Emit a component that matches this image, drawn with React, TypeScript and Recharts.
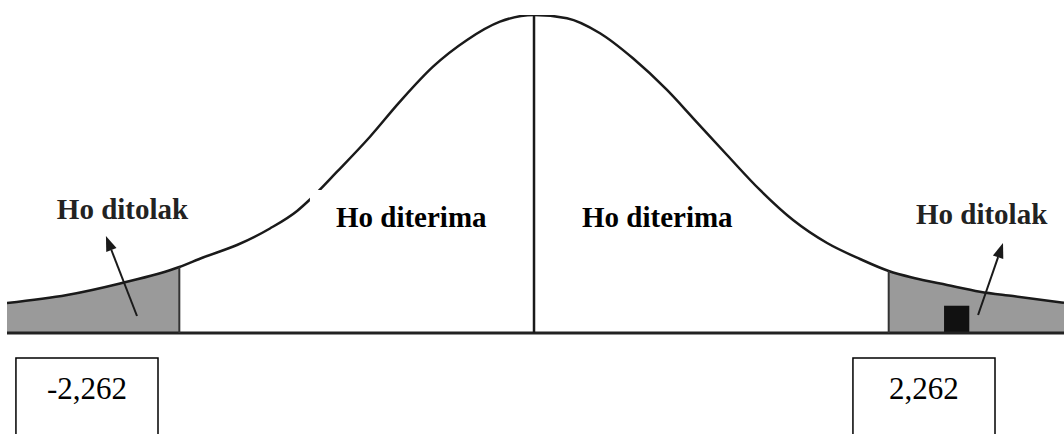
import React from "react";
import {
  ComposedChart,
  Line,
  Area,
  XAxis,
  YAxis,
  ReferenceLine,
  ReferenceArea,
  ReferenceDot,
} from "recharts";

// t values (x) and curve heights (density)
const tValues = [
  -3.361, -2.978, -2.64, -2.262, -2.111, -1.894, -1.684, -1.511, -1.429, -1.256,
  -1.046, -0.855, -0.644, -0.427, -0.217, 0, 0.21, 0.421, 0.631, 0.848, 1.014,
  1.231, 1.441, 1.652, 1.869, 2.079, 2.262, 2.423, 2.634, 2.844, 3.055, 3.38,
];
const density = [
  0.0377, 0.0478, 0.0623, 0.083, 0.095, 0.1107, 0.1315, 0.1535, 0.1679, 0.2029,
  0.2469, 0.291, 0.335, 0.3686, 0.3916, 0.4, 0.3959, 0.377, 0.3455, 0.3057,
  0.2704, 0.2239, 0.1799, 0.1421, 0.1132, 0.0931, 0.078, 0.0692, 0.0604, 0.052,
  0.0465, 0.0381,
];
const criticalValues = [-2.262, 2.262];
const criticalLabels = ["-2,262", "2,262"];
const regionLabels = ["Ho ditolak", "Ho diterima", "Ho diterima", "Ho ditolak"];

const data = tValues.map((t, i) => ({
  t,
  y: density[i],
  tail: t <= criticalValues[0] || t >= criticalValues[1] ? density[i] : null,
}));

const heightAt = (t: number) => density[tValues.indexOf(t)];

// annotation anchors (data coordinates)
const regionAnchors = [
  { x: -3.043, y: 0.1434 },
  { x: -1.263, y: 0.1333 },
  { x: 0.306, y: 0.1333 },
  { x: 2.436, y: 0.1371 },
];
const arrows = [
  { from: { x: -2.532, y: 0.0214 }, to: { x: -2.73, y: 0.122 } },
  { from: { x: 2.832, y: 0.0226 }, to: { x: 2.991, y: 0.1132 } },
];
const boxes = [
  { x1: -3.304, x2: -2.398 },
  { x1: 2.034, x2: 2.94 },
];

const SERIF = "'Liberation Serif', 'Times New Roman', serif";

const ArrowShape = (p: any) => {
  const { x1, y1, x2, y2 } = p;
  const ang = Math.atan2(y2 - y1, x2 - x1);
  const L = 15;
  const W = 5.5;
  const bx = x2 - L * Math.cos(ang);
  const by = y2 - L * Math.sin(ang);
  const px = -Math.sin(ang);
  const py = Math.cos(ang);
  return (
    <g>
      <line x1={x1} y1={y1} x2={bx} y2={by} stroke="#1a1a1a" strokeWidth={2} />
      <polygon
        points={`${x2},${y2} ${bx + W * px},${by + W * py} ${bx - W * px},${by - W * py}`}
        fill="#1a1a1a"
      />
    </g>
  );
};

export default function App() {
  return (
    <div
      style={{
        position: "absolute",
        left: 0,
        top: 0,
        width: 1064,
        height: 434,
        overflow: "hidden",
        background: "#fff",
      }}
    >
      <ComposedChart
        width={1064}
        height={434}
        data={data}
        margin={{ top: 15, right: 0, bottom: 101, left: 7 }}
      >
        <XAxis
          type="number"
          dataKey="t"
          domain={[-3.361, 3.38]}
          allowDataOverflow
          hide
        />
        <YAxis type="number" domain={[0, 0.4]} allowDataOverflow hide />
        <Area
          type="monotone"
          dataKey="tail"
          fill="#9a9a9a"
          fillOpacity={1}
          stroke="none"
          connectNulls={false}
          isAnimationActive={false}
          dot={false}
          activeDot={false}
        />
        <ReferenceArea
          x1={2.615}
          x2={2.776}
          y1={0}
          y2={0.0343}
          fill="#111"
          fillOpacity={1}
          stroke="none"
          ifOverflow="visible"
          zIndex={150}
        />
        <Line
          type="monotone"
          dataKey="y"
          stroke="#1a1a1a"
          strokeWidth={2.5}
          dot={false}
          activeDot={false}
          isAnimationActive={false}
        />
        <ReferenceArea
          x1={-1.429}
          x2={-0.28}
          y1={0.03}
          y2={0.1799}
          fill="#fff"
          fillOpacity={1}
          stroke="none"
          ifOverflow="visible"
          zIndex={450}
        />
        <ReferenceLine y={0} stroke="#222" strokeWidth={3} zIndex={500} />
        <ReferenceLine
          segment={[
            { x: 0, y: 0 },
            { x: 0, y: 0.4 },
          ]}
          stroke="#1a1a1a"
          strokeWidth={2.5}
          zIndex={500}
        />
        {criticalValues.map((c) => (
          <ReferenceLine
            key={"c" + c}
            segment={[
              { x: c, y: 0 },
              { x: c, y: heightAt(c) },
            ]}
            stroke="#333"
            strokeWidth={2}
            zIndex={500}
          />
        ))}
        {arrows.map((a, i) => (
          <ReferenceLine
            key={"a" + i}
            segment={[a.from, a.to]}
            ifOverflow="visible"
            shape={ArrowShape}
            zIndex={600}
          />
        ))}
        {regionLabels.map((lbl, i) => (
          <ReferenceDot
            key={"l" + i}
            x={regionAnchors[i].x}
            y={regionAnchors[i].y}
            r={0}
            ifOverflow="visible"
            zIndex={700}
            shape={(p: any) => (
              <text
                x={p.cx}
                y={p.cy}
                fontFamily={SERIF}
                fontWeight="bold"
                fontSize={29}
                fill={i === 0 || i === 3 ? "#222" : "#000"}
              >
                {lbl}
              </text>
            )}
          />
        ))}
        {boxes.map((b, i) => (
          <ReferenceArea
            key={"b" + i}
            x1={b.x1}
            x2={b.x2}
            y1={-0.1467}
            y2={-0.0314}
            fill="#fff"
            fillOpacity={1}
            stroke="#000"
            strokeWidth={1.5}
            ifOverflow="visible"
            zIndex={700}
            label={(p: any) => {
              const vb = p.viewBox || {};
              return (
                <text
                  x={vb.x + vb.width / 2}
                  y={vb.y + 41}
                  textAnchor="middle"
                  fontFamily={SERIF}
                  fontSize={31}
                  fill="#000"
                >
                  {criticalLabels[i]}
                </text>
              );
            }}
          />
        ))}
      </ComposedChart>
    </div>
  );
}
